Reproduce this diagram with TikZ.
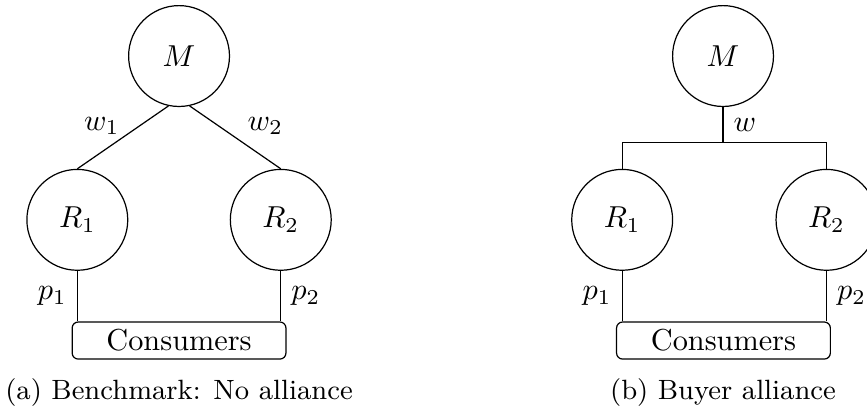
\documentclass[tikz,border=0pt]{standalone}
\usepackage{amsmath}
\usetikzlibrary{positioning, calc}
\tikzset{
    agent/.style={draw, circle, minimum size=1.17cm, inner sep=0pt},
    market/.style={draw, rounded corners=2pt, minimum width=2.48cm, minimum height=0.43cm, inner sep=0pt},
    caption/.style={font=\fontsize{9.2pt}{11pt}\selectfont}
}

\begin{document}
\begin{tikzpicture}
        \useasboundingbox (-2.077,0.65) rectangle (7.98,-4.05);

        % (a) Benchmark: no alliance
        \node[agent] (Ma) at (0,0) {$M$};
        \node[agent] (R1a) at (-1.18,-1.9) {$R_1$};
        \node[agent] (R2a) at (1.18,-1.9) {$R_2$};
        \node[market] (Ca) at (0,-3.3) {Consumers};
        \draw (Ma.-102) -- node[pos=0.32, left=3pt] {$w_1$} (R1a.north);
        \draw (Ma.-78) -- node[pos=0.32, right=6pt] {$w_2$} (R2a.north);
        \draw (R1a.south) -- node[left] {$p_1$} (R1a.south |- Ca.north);
        \draw (R2a.south) -- node[right] {$p_2$} (R2a.south |- Ca.north);
        \node[caption] (capA) at (0,-3.9) {(a) Benchmark: No alliance};

        % (b) Buyer alliance
        \node[agent] (Mb) at (6.31,0) {$M$};
        \node[agent] (R1b) at (5.14,-1.9) {$R_1$};
        \node[agent] (R2b) at (7.51,-1.9) {$R_2$};
        \node[market] (Cb) at (6.315,-3.3) {Consumers};
        \coordinate (J) at (6.31,-1.0);
        \draw (Mb.south) -- node[right] {$w$} (J);
        \draw (R1b.north) |- (J) -| (R2b.north);
        \draw (R1b.south) -- node[left] {$p_1$} (R1b.south |- Cb.north);
        \draw (R2b.south) -- node[right] {$p_2$} (R2b.south |- Cb.north);
        \node[caption] (capB) at (6.31,-3.9) {(b) Buyer alliance};
    \end{tikzpicture}
\end{document}
